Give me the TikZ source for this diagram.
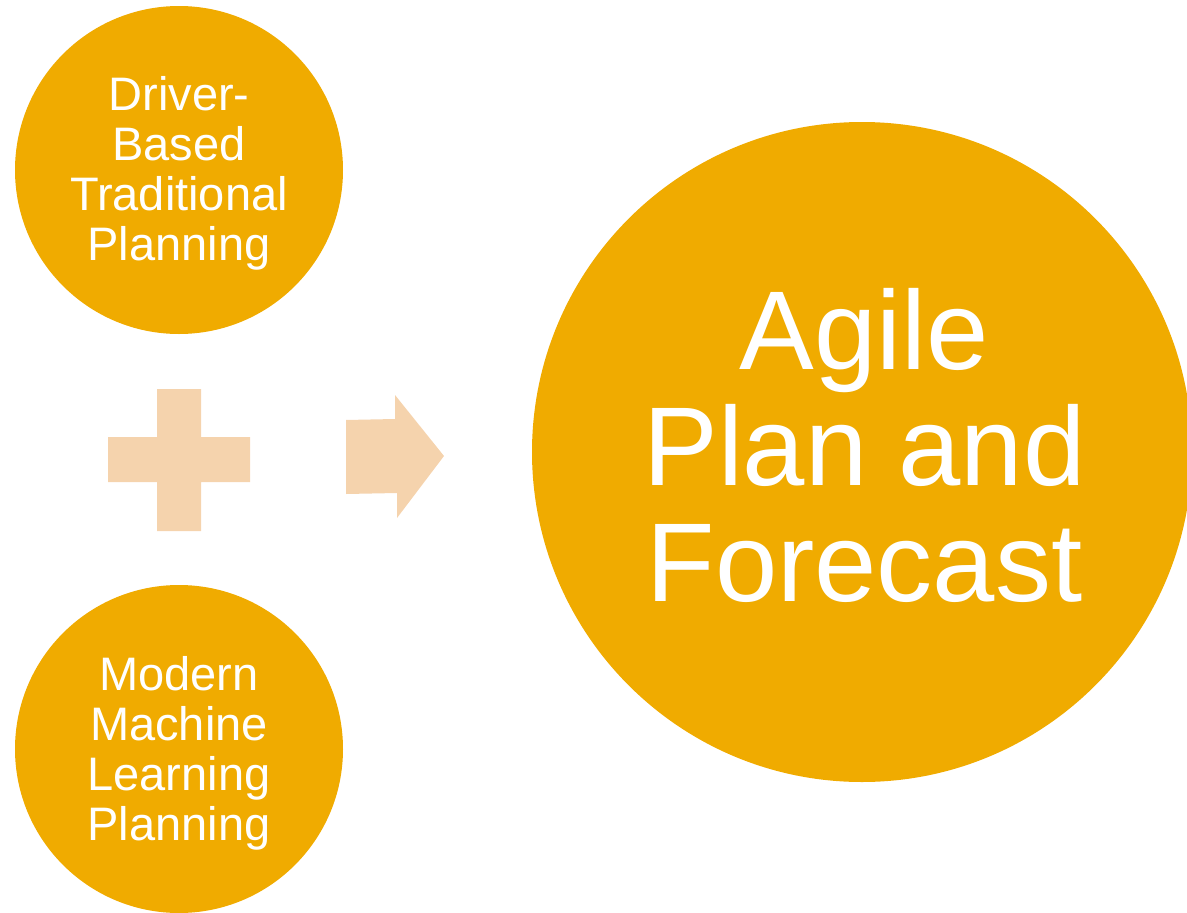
\documentclass[tikz,border=0pt]{standalone}
\usepackage{fontspec}
\setmainfont{Liberation Sans}
\definecolor{gold}{HTML}{F0AB00}
\definecolor{peach}{HTML}{F5D3AD}
\begin{document}
\begin{tikzpicture}[x=1pt,y=-1pt,
  disc/.style={circle,fill=gold,draw=none,inner sep=0pt},
  smalltext/.style={text=white,align=center,inner sep=0pt,font=\fontsize{47}{50}\selectfont},
  bigtext/.style={text=white,align=center,inner sep=0pt,font=\fontsize{112}{116}\selectfont},
  shape fill/.style={fill=peach,draw=none}]
\useasboundingbox (0,0) rectangle (1187,913);
\begin{scope}
\clip (0,0) rectangle (1187,913);
\node[disc,minimum size=328pt] (top) at (179,170) {};
\node[disc,minimum size=328pt] (bot) at (179,749) {};
\node[disc,minimum size=660pt] (big) at (862,452) {};
\end{scope}
\node[smalltext] (toptext) at (179,173) {Driver-\\Based\\Traditional\\Planning};
\node[smalltext] (bottext) at (179,753) {Modern\\Machine\\Learning\\Planning};
\node[bigtext] (bigtxt) at (864.5,445.5) {Agile\\Plan and\\Forecast};
% plus sign
\fill[shape fill] (157,389) -- (201,389) -- (201,437) -- (250,437) -- (250,482) -- (201,482) -- (201,531) -- (157,531) -- (157,482) -- (108,482) -- (108,437) -- (157,437) -- cycle;
% arrow
\fill[shape fill] (346,420) -- (395,419) -- (395,395) -- (444,456) -- (397,518) -- (397,493) -- (346,494) -- cycle;
\end{tikzpicture}
\end{document}
